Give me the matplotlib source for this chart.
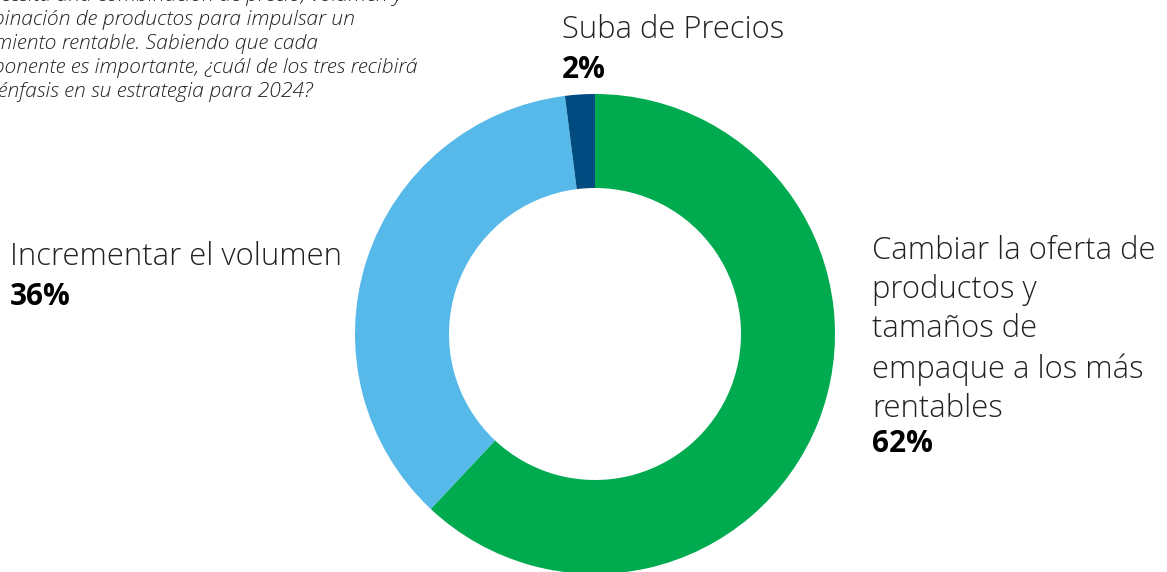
import matplotlib.pyplot as plt

# survey shares
categories = ["Cambiar la oferta de\nproductos y\ntamaños de\nempaque a los más\nrentables",
              "Incrementar el volumen", "Suba de Precios"]
shares = [62, 36, 2]
colors = ["#00AB4F", "#56B9E9", "#004B7F"]

question = ("Se necesita una combinación de precio, volumen y\n"
            "combinación de productos para impulsar un\n"
            "crecimiento rentable. Sabiendo que cada\n"
            "componente es importante, ¿cuál de los tres recibirá\n"
            "más énfasis en su estrategia para 2024?")

plt.rcParams['font.family'] = ['Open Sans', 'DejaVu Sans']

W, H = 1167, 572
fig = plt.figure(figsize=(W / 100, H / 100), dpi=100)
ax = fig.add_axes([0, 0, 1, 1])

ax.pie(shares, colors=colors, startangle=90, counterclock=False,
       center=(595, H - 334), radius=240,
       wedgeprops=dict(width=94, edgecolor="none"))
ax.set_xlim(0, W)
ax.set_ylim(0, H)
ax.axis("off")

# question text, partly cut off at the left/top edge (as in the source)
ax.text(-46, H - 97, question, fontsize=15.2, style="italic", fontweight="light",
        color="#222222", ha="left", va="baseline", linespacing=1.26)

lab = dict(fontsize=22.3, fontweight="light", color="#222222", ha="left", va="baseline")
pct = dict(fontsize=21.4, fontweight="bold", color="black", ha="left", va="baseline")

ax.text(562, H - 38, categories[2], **lab)
ax.text(562, H - 78, f"{shares[2]}%", **pct)

ax.text(10, H - 265, categories[1], **lab)
ax.text(10, H - 305, f"{shares[1]}%", **pct)

ax.text(872, H - 417, categories[0], linespacing=1.31, **lab)
ax.text(872, H - 452, f"{shares[0]}%", **pct)

fig.savefig("out.png", dpi=100)
